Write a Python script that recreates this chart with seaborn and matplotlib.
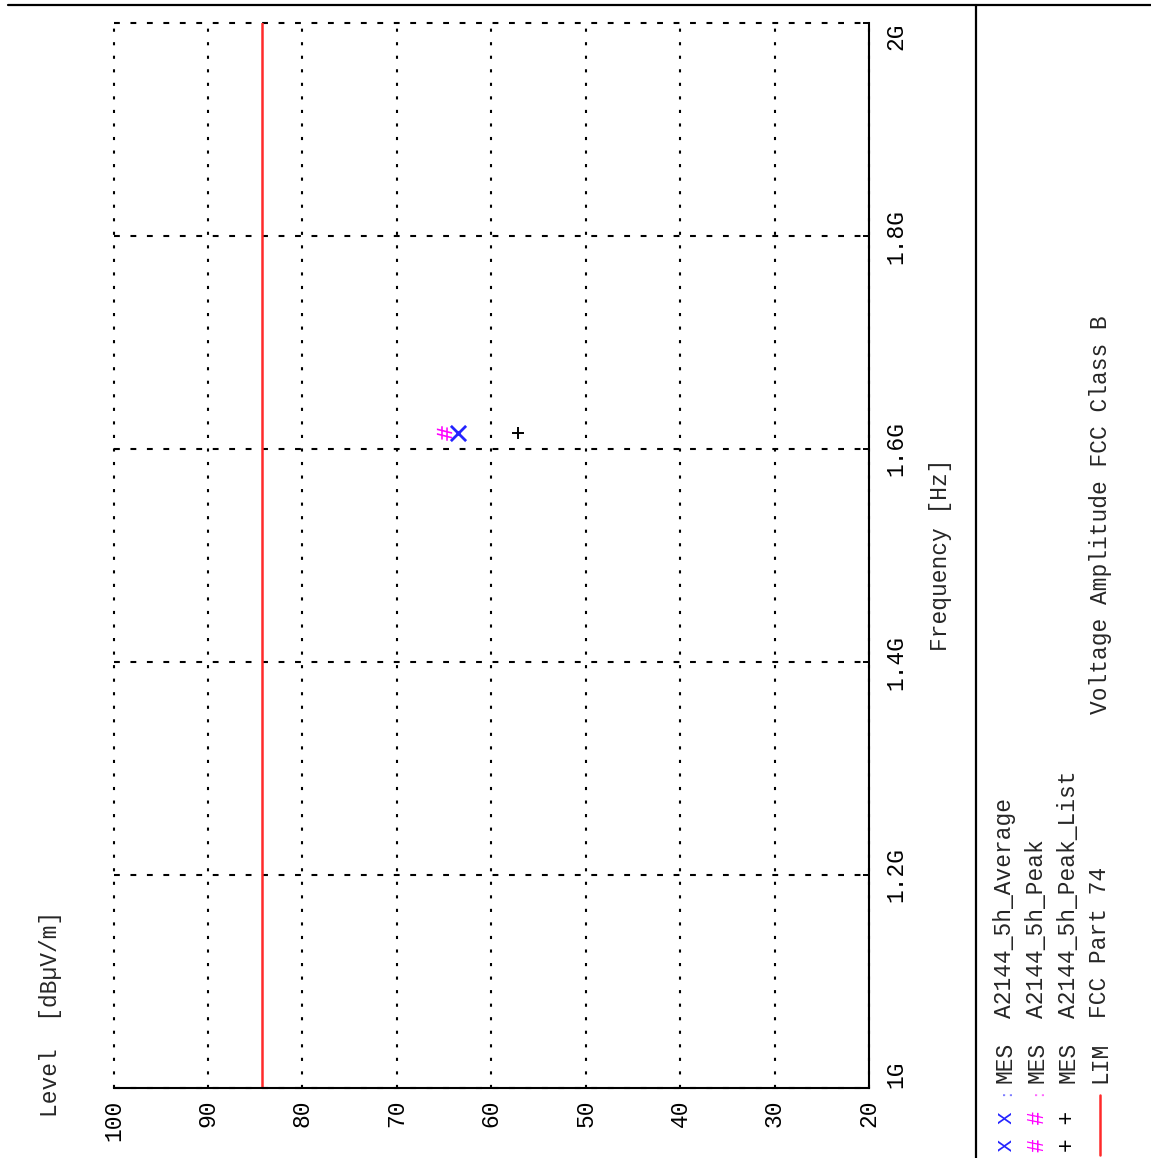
import matplotlib
matplotlib.use("Agg")
import matplotlib.pyplot as plt
from matplotlib.markers import MarkerStyle
from matplotlib.transforms import Affine2D
from matplotlib.lines import Line2D
import seaborn as sns

# ---- data: level in dBµV/m, frequency in Hz ----
avg_freq = [1.615e9]
avg_level = [63.5]
peak_freq = [1.615e9]
peak_level = [65.0]
list_freq = [1.615e9]
list_level = [57.2]
limit_freq = [1.0e9, 2.0e9]
limit_level = [84.3, 84.3]

level_ticks = [100, 90, 80, 70, 60, 50, 40, 30, 20]
freq_ticks = [1.0e9, 1.2e9, 1.4e9, 1.6e9, 1.8e9, 2.0e9]
freq_tick_labels = ["1G", "1.2G", "1.4G", "1.6G", "1.8G", "2G"]

legend_symbols = ["x x", "# #", "+ +", ""]
legend_seps = [":", ":", "", ""]
legend_sources = ["MES", "MES", "MES", "LIM"]
legend_names = ["A2144_5h_Average", "A2144_5h_Peak", "A2144_5h_Peak_List", "FCC Part 74"]

x_label = "Level  [dBµV/m]"
y_label = "Frequency [Hz]"
title = "Voltage Amplitude FCC Class B"

# ---- style ----
sns.set_style("white")
plt.rcParams["font.family"] = ["Liberation Mono", "DejaVu Sans Mono"]
FS = 16.5
BLUE = "#2424ff"
MAGENTA = "#ff00ff"
RED = "#ff2a2a"

W, H = 1151, 1158
fig = plt.figure(figsize=(W / 100, H / 100), dpi=100)


def fx(px):
    return px / W


def fy(py):
    return 1 - py / H


ax = fig.add_axes([fx(113.5), fy(1088), (869 - 113.5) / W, (1088 - 23) / H])

# limit line
sns.lineplot(x=limit_level, y=limit_freq, estimator=None, sort=False,
             color=RED, linewidth=1.8, ax=ax)

# measured points
hash_marker = MarkerStyle(r"$\#$", transform=Affine2D().rotate_deg(90))
sns.scatterplot(x=peak_level, y=peak_freq, marker=hash_marker, s=120,
                color=MAGENTA, linewidth=0, ax=ax, zorder=4)
sns.scatterplot(x=avg_level, y=avg_freq, marker="x", s=120,
                color=BLUE, linewidth=2.0, ax=ax, zorder=5)
sns.scatterplot(x=list_level, y=list_freq, marker="+", s=80,
                color="black", linewidth=1.4, ax=ax, zorder=5)

ax.set_xlim(100, 20)
ax.set_ylim(1.0e9, 2.0e9)
ax.set_xlabel("")
ax.set_ylabel("")

ax.set_xticks(level_ticks)
ax.set_xticklabels([str(v) for v in level_ticks], rotation=90,
                   ha="center", va="top", fontsize=FS)
ax.yaxis.tick_right()
ax.set_yticks(freq_ticks)
ax.set_yticklabels(freq_tick_labels, rotation=90, ha="left", va="center",
                   fontsize=FS)
ylabels = ax.get_yticklabels()
ylabels[0].set_va("bottom")
ylabels[-1].set_va("top")

ax.tick_params(axis="x", direction="in", length=4, width=1.4, pad=8.5,
               colors="black")
ax.tick_params(axis="y", direction="in", length=4, width=1.4, pad=11,
               right=True, left=False, colors="black")

ax.grid(True, axis="x", color="black", linewidth=1.5,
        linestyle=(0, (1.5, 5.0)), clip_on=False)
ax.grid(True, axis="y", color="black", linewidth=1.5,
        linestyle=(0, (2.8, 5.1)), clip_on=False)

for side in ("top", "left"):
    ax.spines[side].set_visible(False)
for side in ("bottom", "right"):
    ax.spines[side].set_color("black")
    ax.spines[side].set_linewidth(1.5)

# axis titles
fig.text(fx(51), fy(1117), x_label, rotation=90, rotation_mode="anchor",
         ha="left", va="center", fontsize=FS)
fig.text(fx(940), fy(555), y_label, rotation=90, ha="center", va="center",
         fontsize=FS)
fig.text(fx(1100), fy(515), title, rotation=90, ha="center", va="center",
         fontsize=FS)

# legend block
row_x = [1005, 1037, 1068, 1100]
sym_colors = [BLUE, MAGENTA, "black", RED]
for i in range(4):
    if legend_symbols[i]:
        fig.text(fx(row_x[i]), fy(1152), legend_symbols[i], rotation=90,
                 rotation_mode="anchor", ha="left", va="center",
                 fontsize=FS, color=sym_colors[i])
    if legend_seps[i]:
        fig.text(fx(row_x[i]), fy(1096), legend_seps[i], rotation=90,
                 rotation_mode="anchor", ha="left", va="center",
                 fontsize=FS * 0.7, color=sym_colors[i], alpha=0.6)
    fig.text(fx(row_x[i]), fy(1083), legend_sources[i], rotation=90,
             rotation_mode="anchor", ha="left", va="center", fontsize=FS)
    fig.text(fx(row_x[i]), fy(1018), legend_names[i], rotation=90,
             rotation_mode="anchor", ha="left", va="center", fontsize=FS)
fig.add_artist(Line2D([fx(1100), fx(1100)], [fy(1155), fy(1095)],
                      color=RED, linewidth=1.8))

# frame lines
fig.add_artist(Line2D([fx(8), 1], [fy(5), fy(5)], color="black", linewidth=1.6))
fig.add_artist(Line2D([fx(976), fx(976)], [fy(5), 0], color="black", linewidth=1.6))

fig.savefig("out.png", dpi=100)
